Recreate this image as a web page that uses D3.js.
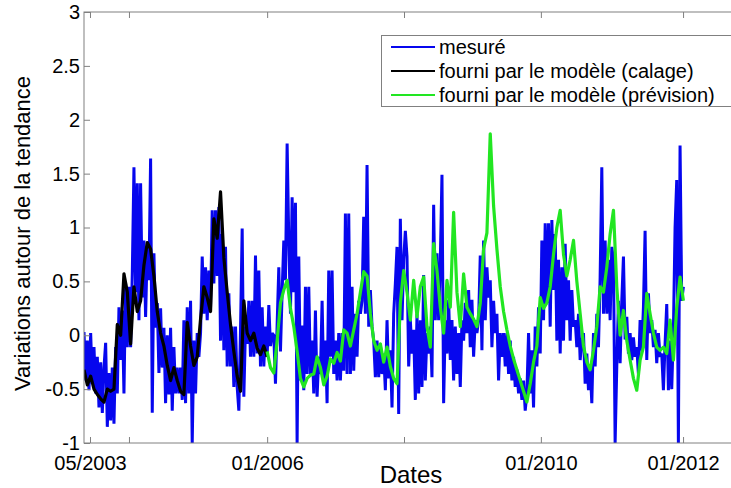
<!DOCTYPE html>
<html>
<head>
<meta charset="utf-8">
<script src="https://cdn.jsdelivr.net/npm/d3@7"></script>
<style>
  body { margin: 0; background: #fff; }
  svg { display: block; }
  text { font-family: "Liberation Sans", Arial, sans-serif; fill: #000; }
</style>
</head>
<body>
<svg id="chart" width="731" height="488"></svg>
<script>
// measured series, two values per sample index (step 0.5), index 0 = 05/2003
const measuredStep = 0.5;
const measured = [
  0.03,-0.42,-0.05,-0.51,0.02,-0.45,-0.11,-0.54,-0.20,-0.67,-0.25,-0.72,-0.30,-0.07,-0.85,-0.35,-0.79,-0.30,-0.82,-0.11,
  -0.54,0.26,-0.23,0.23,-0.54,0.48,-0.11,0.45,-0.11,0.57,1.56,0.40,1.41,0.14,1.41,0.35,0.88,0.17,0.82,0.51,
  1.64,-0.72,0.76,0.07,0.30,-0.35,0.25,-0.30,0.07,-0.63,0.00,-0.55,0.07,-0.70,-0.11,-0.54,-0.30,-0.54,-0.30,-0.60,
  0.14,-0.63,0.26,-0.54,0.32,-1.00,-0.05,-0.54,0.02,-0.20,0.02,0.73,0.20,0.63,0.14,0.60,0.26,1.16,0.48,1.16,
  0.55,1.19,-0.05,0.94,-0.14,0.82,-0.29,0.39,-0.29,0.08,-0.48,0.08,-0.48,-0.70,0.05,0.99,-0.57,0.08,-0.08,0.32,
  -0.20,0.32,-0.20,0.74,-0.17,0.60,-0.29,0.26,-0.29,0.08,-0.20,0.28,-0.10,0.02,0.00,-0.45,0.10,0.63,-0.15,0.40,
  0.88,0.51,1.78,0.88,0.20,1.28,0.40,1.23,-1.00,0.73,-0.42,0.09,-0.51,0.45,-0.36,0.45,-0.36,-0.05,-0.54,0.23,
  -0.57,-0.20,-0.36,0.32,-0.45,-0.05,-0.63,0.60,-0.20,0.60,-0.36,-0.05,-0.42,0.02,-0.42,0.02,-0.33,1.13,-0.36,1.13,
  -0.36,0.45,-0.33,0.20,-0.20,0.32,0.20,0.32,1.10,0.20,1.58,0.08,0.42,0.08,-0.05,-0.39,-0.05,-0.39,-0.08,-0.36,
  -0.17,-0.51,0.14,-0.40,-0.14,-0.67,0.20,0.48,0.82,-0.73,1.08,0.14,0.70,0.97,0.73,-0.29,0.14,-0.17,0.05,-0.60,
  0.20,-0.54,0.14,-0.48,0.56,-0.42,0.02,-0.17,0.08,-0.39,1.21,0.14,0.76,0.14,0.70,1.49,-0.63,0.14,-0.17,0.33,
  -0.23,0.14,-0.42,0.08,-0.36,0.02,-0.48,0.14,-0.05,0.30,0.02,0.42,-0.11,0.33,-0.20,0.14,0.02,0.14,0.74,-0.14,
  0.88,0.14,0.63,0.35,0.51,-0.11,0.32,0.02,0.20,-0.42,0.02,-0.20,0.02,-0.29,0.02,-0.36,-0.05,-0.42,-0.20,-0.48,
  -0.32,-0.54,-0.40,-0.60,-0.42,-0.70,-0.54,0.02,-0.54,-0.14,-0.67,0.08,-0.29,0.26,-0.17,0.88,0.14,1.04,0.30,1.04,
  0.08,1.07,0.42,0.94,-0.05,0.70,-0.17,0.63,-0.05,0.85,0.14,0.51,-0.05,0.42,0.08,0.14,-0.11,0.20,-0.23,-0.05,
  0.02,-0.45,-0.17,-0.51,-0.29,-0.63,0.02,-0.29,0.20,-0.11,0.54,1.56,0.20,0.88,0.20,0.70,0.14,0.82,0.70,-1.00,
  -0.29,0.32,-0.26,0.32,0.73,-0.04,0.17,-0.17,0.02,-0.23,-0.02,-0.20,-0.11,-0.36,0.14,-0.14,0.26,0.97,-0.23,0.39,
  0.02,0.14,-0.11,0.05,-0.26,0.02,-0.20,-0.17,-0.51,-0.08,0.29,-0.51,-0.05,-0.50,0.05,1.00,1.44,-1.00,1.76,0.32,
  0.45
];

// calibration model output, one value per sample from index 0
const calage = [
  -0.32,-0.46,-0.38,-0.50,-0.55,-0.59,-0.62,-0.50,-0.52,-0.50,0.10,0.00,0.57,0.40,-0.08,0.45,0.22,0.32,0.65,0.86,
  0.80,0.55,0.22,0.02,-0.10,-0.28,-0.42,-0.30,-0.42,-0.52,-0.55,0.12,-0.10,-0.28,-0.20,0.15,0.45,0.35,0.22,1.08,
  0.90,1.33,0.72,0.40,0.10,-0.15,-0.38,-0.52,0.32,0.02,-0.05,0.02,-0.12,-0.18,-0.10,-0.20
];

// forecast model output, one value per sample from index previsionStart
const previsionStart = 55;
const prevision = [
  -0.15,-0.30,-0.35,-0.05,0.30,
  0.42,0.51,0.25,0.08,-0.15,-0.40,-0.48,-0.40,-0.37,-0.36,-0.20,-0.30,-0.46,-0.38,-0.22,-0.26,-0.16,-0.24,0.05,0.02,-0.10,0.05,0.20,0.40,0.59,0.55,0.20,-0.05,-0.14,-0.08,
  -0.25,-0.11,-0.29,-0.40,-0.45,0.30,0.60,0.40,0.14,0.51,0.17,0.45,0.54,0.08,-0.11,0.85,0.60,0.26,0.02,0.51,0.26,1.14,0.40,0.08,0.57,0.26,0.20,0.15,0.08,0.30,
  0.80,0.95,1.87,1.20,0.80,0.45,0.22,0.05,-0.10,-0.22,-0.32,-0.42,-0.52,-0.62,-0.45,-0.25,-0.10,0.35,0.25,0.30,0.45,0.75,1.00,1.16,0.75,0.55,0.70,0.88,0.50,0.20,
  -0.10,-0.25,-0.32,-0.14,0.08,0.45,0.40,0.63,0.94,1.16,0.45,0.00,0.23,-0.05,-0.23,-0.40,-0.51,-0.23,-0.11,0.39,0.20,0.02,-0.11,-0.14,-0.11,-0.17,0.14,-0.23,0.26,0.54,0.32
];

const yTicks = [-1, -0.5, 0, 0.5, 1, 1.5, 2, 2.5, 3];
const xTickPos = [1.8, 13.5, 55, 96.1, 137.2, 179.9];
const xTickLabels = ["05/2003", "", "01/2006", "", "01/2010", "01/2012"];
const legendLabels = ["mesuré", "fourni par le modèle (calage)", "fourni par le modèle (prévision)"];
const colors = ["#0606ee", "#000000", "#22e622"];

const plot = { left: 84, top: 12, right: 740, bottom: 443 };
const frameColor = "#808080";

const svg = d3.select("#chart");

const x = d3.scaleLinear().domain([0, 197]).range([plot.left, plot.right]);
const y = d3.scaleLinear().domain([-1, 3]).range([plot.bottom, plot.top]);

svg.append("defs").append("clipPath").attr("id", "clip")
  .append("rect")
  .attr("x", plot.left).attr("y", plot.top)
  .attr("width", plot.right - plot.left).attr("height", plot.bottom - plot.top);

// series
const line = d3.line().x(d => x(d.i)).y(d => y(d.v));
const series = [
  measured.map((v, k) => ({ i: k * measuredStep, v })),
  calage.map((v, i) => ({ i, v })),
  prevision.map((v, i) => ({ i: i + previsionStart, v }))
];
const g = svg.append("g").attr("clip-path", "url(#clip)");
series.forEach((s, k) => {
  g.append("path")
    .datum(s)
    .attr("d", line)
    .attr("fill", "none")
    .attr("stroke", colors[k])
    .attr("stroke-width", k === 0 ? 3 : 3.2)
    .attr("stroke-linejoin", k === 0 ? "miter" : "round")
    .attr("stroke-miterlimit", 2);
});

// axes, ticks pointing inward like matlab
const xAxis = d3.axisBottom(x).tickValues(xTickPos)
  .tickFormat((d, i) => xTickLabels[i])
  .tickSizeInner(-6).tickSizeOuter(0).tickPadding(13);
const xTop = d3.axisTop(x).tickValues(xTickPos).tickFormat("")
  .tickSizeInner(-6).tickSizeOuter(0);
const yAxis = d3.axisLeft(y).tickValues(yTicks).tickFormat(d => String(d))
  .tickSizeInner(-6).tickSizeOuter(0).tickPadding(4);

const gx = svg.append("g").attr("transform", `translate(0,${plot.bottom})`).call(xAxis);
const gxt = svg.append("g").attr("transform", `translate(0,${plot.top})`).call(xTop);
const gy = svg.append("g").attr("transform", `translate(${plot.left},0)`).call(yAxis);
[gx, gxt, gy].forEach(a => {
  a.select(".domain").remove();
  a.selectAll(".tick line").attr("stroke", frameColor);
  a.selectAll("text").style("font-size", "20px").attr("fill", "#000");
});

// frame
svg.append("rect")
  .attr("x", plot.left).attr("y", plot.top)
  .attr("width", plot.right - plot.left).attr("height", plot.bottom - plot.top)
  .attr("fill", "none").attr("stroke", frameColor).attr("stroke-width", 1);

// axis titles
svg.append("text")
  .attr("x", (plot.left + plot.right) / 2 - 1).attr("y", 483)
  .attr("text-anchor", "middle").style("font-size", "24px")
  .text("Dates");
svg.append("text")
  .attr("transform", `translate(30,${(plot.top + plot.bottom) / 2 + 6}) rotate(-90)`)
  .attr("text-anchor", "middle").style("font-size", "22px")
  .text("Variations autour de la tendance");

// legend
const legend = svg.append("g");
legend.append("rect")
  .attr("x", 381.5).attr("y", 35.5).attr("width", 400).attr("height", 71)
  .attr("fill", "#fff").attr("stroke", frameColor);
legendLabels.forEach((lab, k) => {
  const ly = 47 + k * 24;
  legend.append("line")
    .attr("x1", 391).attr("x2", 435).attr("y1", ly).attr("y2", ly)
    .attr("stroke", colors[k]).attr("stroke-width", 2);
  legend.append("text")
    .attr("x", 439).attr("y", ly).attr("dy", "0.35em")
    .style("font-size", "20px")
    .text(lab);
});
</script>
</body>
</html>
